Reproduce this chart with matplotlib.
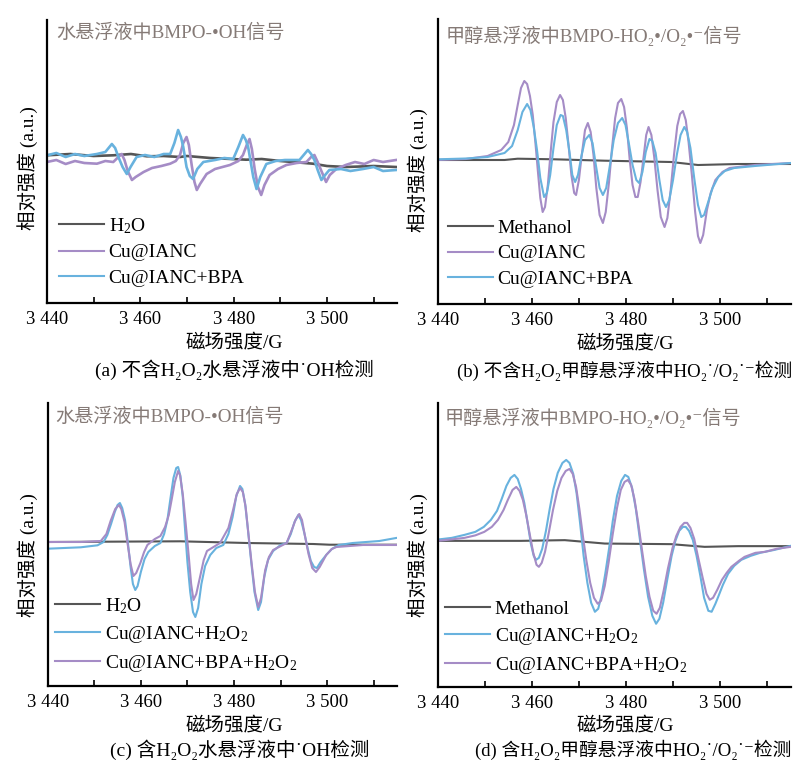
import numpy as np
import matplotlib
matplotlib.use("Agg")
import matplotlib.pyplot as plt
from matplotlib.ticker import MultipleLocator, FuncFormatter

FAM = ["Liberation Serif", "Noto Sans CJK SC", "DejaVu Sans"]
plt.rcParams["font.family"] = FAM
plt.rcParams["mathtext.fontset"] = "custom"
plt.rcParams["mathtext.rm"] = "Liberation Serif"
plt.rcParams["mathtext.default"] = "regular"

GRAY = "#555555"
PURPLE = "#a58cc6"
BLUE = "#68b2de"
TITLE_C = "#857a76"

# ---- (a) no H2O2, water suspension ----
a_x_h2o = [3440, 3445, 3450, 3454.2, 3458, 3461.4, 3465, 3468.5, 3470, 3475, 3482.7,
           3486, 3490, 3497.0, 3500, 3504.1, 3510, 3514.8]
a_y_h2o = [1.7, 3, 1, 1.7, 3, 0.7, 1, 0, 1, -1, -2.7,
           -2, -4, -6.7, -9, -10, -9, -10]
a_x_cu = [3440, 3442, 3444, 3446, 3448, 3450.7, 3452.5, 3454.2, 3455.3, 3456.0,
          3456.6, 3457.3, 3458.2, 3459.0, 3460.7, 3462.5, 3464.5, 3466.4, 3467.6, 3468.5,
          3469.2, 3469.9, 3470.4, 3471.0, 3471.6, 3472.1, 3472.8, 3474.2, 3476.0, 3479.2,
          3481.0, 3482.0, 3482.8, 3483.4, 3483.9, 3484.5, 3485.2, 3485.9, 3486.6, 3487.7,
          3489.5, 3491.3, 3493.5, 3495.6, 3496.6, 3497.3, 3498.0, 3498.8, 3499.8, 3500.6,
          3502.0, 3504, 3506, 3508, 3510, 3512, 3514.8]
a_y_cu = [-5, -3, -7, -4, -6, -6.7, -4, -5, 0, 3,
          -3, -14, -23, -20, -15, -11, -9, -6.7, -4, 2,
          14, 20, 12, -8, -25, -33, -27, -17, -12, -8,
          -4, 2, 12, 18, 8, -12, -30, -38, -28, -18,
          -12, -8, -6, -5, 0, 2, -5, -14, -25, -18,
          -12, -8, -5, -7, -3, -5, -3]
a_x_bpa = [3440, 3442, 3444, 3446, 3448, 3450.7, 3452.5, 3453.9, 3454.6, 3455.3,
           3456.2, 3457.1, 3457.9, 3459.2, 3461, 3463, 3465, 3466.4, 3467.3, 3468.1,
           3468.7, 3469.2, 3469.9, 3470.6, 3471.3, 3472.2, 3473.5, 3476, 3478, 3479.9,
           3481.0, 3482.0, 3482.6, 3483.1, 3484.2, 3484.9, 3485.7, 3487.0, 3489, 3491,
           3494.1, 3495.0, 3495.9, 3496.6, 3497.3, 3498.0, 3498.8, 3499.6, 3500.5, 3503,
           3505, 3507.7, 3510, 3512, 3514.8]
a_y_bpa = [1.7, 4, 0, 3, 1, 3, 5, 13, 9, 0,
           -10, -17, -10, 0, 2, 0, 3, 3, 14, 27,
           20, 10, -10, -19, -22, -12, -5, -3, -1, -2,
           10, 22, 17, 10, -20, -32, -20, -7, -4, -3,
           -3, 2, 7, 3, -3, -13, -23, -18, -13, -12,
           -14, -12, -10, -14, -13]

# ---- (b) no H2O2, methanol suspension ----
b_x_meoh = [3440, 3454.2, 3457.0, 3464.8, 3475.5, 3489.6, 3495.3, 3503.8, 3515]
b_y_meoh = [0, 0, 1.3, 0.7, -0.7, -2, -5, -4, -4]
b_x_cu = [3440, 3446, 3450.6, 3453.5, 3455.0, 3456.2, 3457.0, 3457.7, 3458.4, 3459.0,
          3459.6, 3460.2, 3460.8, 3461.3, 3461.8, 3462.3, 3462.8, 3463.4, 3464.0, 3464.6,
          3465.3, 3466.0, 3466.6, 3467.2, 3467.8, 3468.4, 3469.0, 3469.4, 3470.0, 3470.6,
          3471.3, 3471.9, 3472.5, 3473.1, 3473.7, 3474.4, 3475.1, 3475.7, 3476.4, 3477.0,
          3477.7, 3478.3, 3479.0, 3479.6, 3480.2, 3480.8, 3481.4, 3482.0, 3482.5, 3483.1,
          3483.8, 3484.3, 3484.8, 3485.4, 3486.0, 3486.7, 3487.4, 3488.2, 3488.8, 3489.5,
          3490.2, 3490.9, 3491.5, 3492.1, 3492.7, 3493.3, 3494.0, 3494.7, 3495.3, 3495.8,
          3496.4, 3497.2, 3498.0, 3499.0, 3500.5, 3502.0, 3507.4, 3515]
b_y_cu = [0, 1, 4, 10, 18, 35, 55, 72, 79, 76,
          64, 45, 15, -12, -38, -52, -47, -25, 8, 38,
          58, 65, 60, 42, 15, -15, -33, -35, -20, 5,
          30, 37, 28, 5, -28, -55, -63, -52, -22, 10,
          42, 57, 61, 53, 32, 0, -25, -37, -37, -22,
          5, 25, 33, 25, 3, -30, -57, -67, -58, -30,
          5, 34, 46, 49, 40, 18, -15, -52, -76, -83,
          -75, -50, -33, -20, -12, -8, -5, -3]
b_x_bpa = [3440, 3446, 3450.6, 3454.2, 3455.8, 3457.0, 3458.0, 3459.0, 3459.7, 3460.4,
           3461.1, 3461.8, 3462.6, 3463.2, 3463.9, 3464.6, 3465.3, 3466.1, 3466.6, 3467.3,
           3468.0, 3468.6, 3469.2, 3469.8, 3470.5, 3471.3, 3472.2, 3472.9, 3473.6, 3474.4,
           3475.1, 3475.8, 3476.6, 3477.4, 3478.3, 3479.2, 3479.9, 3480.6, 3481.4, 3482.2,
           3482.8, 3483.5, 3484.2, 3485.0, 3485.6, 3486.3, 3487.1, 3487.8, 3488.5, 3489.2,
           3490.0, 3490.8, 3491.6, 3492.4, 3493.0, 3493.7, 3494.5, 3495.3, 3496.0, 3496.6,
           3497.4, 3498.4, 3499.6, 3501.0, 3503.0, 3507.4, 3515]
b_y_bpa = [0.7, 1.5, 3, 7, 14, 30, 48, 56, 50, 33,
           10, -18, -37, -33, -15, 12, 35, 45, 44, 30,
           8, -15, -22, -15, 3, 20, 25, 17, -5, -28,
           -35, -28, -5, 20, 37, 42, 35, 17, -5, -20,
           -23, -12, 8, 21, 19, 7, -20, -40, -47, -40,
           -20, 5, 25, 33, 28, 12, -18, -45, -57, -55,
           -43, -28, -17, -11, -8, -6, -3]

# ---- (c) with H2O2, water suspension ----
c_x_h2o = [3440, 3468.5, 3482.7, 3497.0, 3500.5, 3514.8]
c_y_h2o = [0, 0.7, -1, -2, -2.7, -2.7]
c_x_cu = [3440, 3447.1, 3450.7, 3452.0, 3452.8, 3453.6, 3454.4, 3455.0, 3455.5, 3456.0,
          3456.6, 3457.2, 3457.8, 3458.3, 3458.8, 3459.3, 3460.0, 3460.8, 3461.6, 3463.0,
          3464.2, 3465.0, 3465.7, 3466.4, 3467.0, 3467.6, 3468.0, 3468.5, 3469.0, 3469.5,
          3470.0, 3470.6, 3471.2, 3471.7, 3472.3, 3473.0, 3473.8, 3474.9, 3476.2, 3477.7,
          3478.8, 3479.7, 3480.5, 3481.3, 3481.8, 3482.4, 3483.0, 3483.7, 3484.4, 3485.2,
          3485.8, 3486.5, 3487.3, 3488.4, 3490.0, 3491.3, 3492.2, 3493.0, 3493.8, 3494.4,
          3495.1, 3495.8, 3496.5, 3497.2, 3497.8, 3498.6, 3499.8, 3501.0, 3502.5, 3505.5,
          3511.2, 3514.8]
c_y_cu = [-6.7, -5.3, -3.3, 0, 7, 18, 30, 37, 39, 34,
          22, 0, -25, -42, -48, -44, -30, -17, -10, -4,
          -1, 8, 22, 45, 64, 74, 75, 66, 45, 12,
          -20, -50, -70, -75, -66, -42, -24, -13, -6, -3,
          8, 25, 46, 56, 53, 38, 12, -20, -50, -68,
          -60, -35, -18, -9, -3, -1, 8, 20, 27, 22,
          9, -6, -19, -25, -26, -20, -13, -7, -3, -1,
          1, 4]
c_x_bpa = [3440, 3447.1, 3451.4, 3452.6, 3453.5, 3454.5, 3455.3, 3455.8, 3456.5, 3457.1,
           3457.8, 3458.4, 3459.0, 3459.9, 3460.7, 3461.4, 3463.0, 3464.2, 3465.2, 3466.0,
           3466.6, 3467.3, 3468.0, 3468.4, 3469.0, 3469.6, 3470.3, 3470.8, 3471.3, 3471.9,
           3472.8, 3473.5, 3474.2, 3477.0, 3478.8, 3479.8, 3480.6, 3481.3, 3481.9, 3482.5,
           3483.1, 3483.8, 3484.5, 3485.2, 3485.8, 3486.7, 3487.5, 3488.4, 3491.3, 3492.4,
           3493.2, 3494.0, 3494.6, 3495.2, 3496.0, 3496.8, 3497.6, 3498.4, 3499.8, 3501.0,
           3502.0, 3507.7, 3514.8]
c_y_bpa = [0, 0, 1, 8, 21, 33, 37, 33, 20, 0,
           -22, -34, -31, -21, -10, -3, 3, 6, 15, 27,
           42, 60, 71, 67, 48, 20, -15, -42, -58, -52,
           -33, -18, -9, -1, 14, 32, 48, 54, 50, 35,
           8, -22, -50, -65, -56, -28, -15, -8, -1, 12,
           22, 28, 22, 7, -12, -26, -30, -25, -13, -7,
           -5, -3, -3]

# ---- (d) with H2O2, methanol suspension ----
d_x_meoh = [3440, 3457.7, 3467.0, 3475.5, 3489.6, 3496.7, 3503.8, 3515]
d_y_meoh = [0, 0, 0.7, -2.7, -3.3, -6, -5.3, -5.3]
d_x_cu = [3440, 3443, 3445.7, 3448, 3449.8, 3451.3, 3452.6, 3453.6, 3454.6, 3455.5,
          3456.3, 3457.0, 3457.7, 3458.4, 3459.1, 3459.8, 3460.4, 3460.9, 3461.5, 3462.2,
          3463.0, 3463.8, 3464.6, 3465.5, 3466.5, 3467.3, 3468.0, 3468.8, 3469.5, 3470.2,
          3471.0, 3471.8, 3472.6, 3473.4, 3474.1, 3474.8, 3475.6, 3476.4, 3477.2, 3478.1,
          3479.0, 3479.8, 3480.5, 3481.3, 3482.1, 3483.0, 3483.8, 3484.7, 3485.6, 3486.4,
          3487.1, 3487.9, 3488.8, 3489.7, 3490.5, 3491.3, 3492.1, 3492.7, 3493.4, 3494.2,
          3495.0, 3495.8, 3496.6, 3497.5, 3498.2, 3499.0, 3499.6, 3500.6, 3501.7, 3503.0,
          3504.5, 3506.5, 3508.5, 3511.6, 3515]
d_y_cu = [1.3, 3, 6, 9, 14, 21, 30, 42, 55, 63,
          66, 62, 52, 38, 18, -3, -15, -19, -17, -8,
          10, 32, 52, 68, 78, 81, 78, 67, 48, 20,
          -15, -42, -62, -71, -68, -55, -33, -8, 20, 45,
          60, 66, 64, 53, 32, 0, -28, -56, -75, -83,
          -78, -62, -38, -15, 0, 10, 14, 14, 10, 1,
          -15, -35, -57, -70, -71, -63, -56, -44, -33, -25,
          -19, -15, -12, -9, -5]
d_x_bpa = [3440, 3443, 3445.7, 3448, 3449.9, 3451.5, 3452.8, 3454.0, 3454.9, 3455.9,
           3456.7, 3457.4, 3458.1, 3458.8, 3459.5, 3460.3, 3461.0, 3461.5, 3462.1, 3462.8,
           3463.6, 3464.5, 3465.4, 3466.3, 3467.2, 3468.0, 3468.7, 3469.4, 3470.1, 3470.9,
           3471.6, 3472.4, 3473.2, 3474.0, 3474.7, 3475.5, 3476.3, 3477.2, 3478.1, 3478.9,
           3479.7, 3480.4, 3481.1, 3481.8, 3482.6, 3483.4, 3484.2, 3485.0, 3485.8, 3486.5,
           3487.2, 3488.0, 3488.9, 3489.9, 3490.7, 3491.6, 3492.4, 3493.0, 3493.7, 3494.5,
           3495.4, 3496.3, 3497.1, 3497.8, 3498.5, 3499.4, 3500.4, 3501.4, 3502.4, 3504.0,
           3505.2, 3507.5, 3509.5, 3512, 3515]
d_y_bpa = [0, 1.5, 3, 5.5, 9, 14, 21, 31, 41, 51,
           54, 50, 41, 26, 8, -12, -24, -26, -22, -11,
           8, 31, 50, 63, 70, 72, 67, 54, 32, 3,
           -20, -42, -57, -63, -60, -45, -22, 7, 33, 51,
           59, 61, 56, 42, 18, -9, -35, -56, -70, -73,
           -67, -50, -28, -7, 5, 14, 18, 18, 13, 2,
           -18, -37, -53, -59, -57, -49, -39, -32, -26, -20,
           -16, -12, -11, -8, -6]

TITLES = ["水悬浮液中BMPO-•OH信号", "甲醇悬浮液中BMPO-HO₂•/O₂•⁻信号",
          "水悬浮液中BMPO-•OH信号", "甲醇悬浮液中BMPO-HO₂•/O₂•⁻信号"]
CAPTIONS = ["(a) 不含H₂O₂水悬浮液中˙OH检测", "(b) 不含H₂O₂甲醇悬浮液中HO₂˙/O₂˙⁻检测",
            "(c) 含H₂O₂水悬浮液中˙OH检测", "(d) 含H₂O₂甲醇悬浮液中HO₂˙/O₂˙⁻检测"]
XLABEL = "磁场强度/G"
YLABEL = "相对强度 (a.u.)"

W, H = 794, 762


def fx(x):
    return x / W


def fy(y):
    return 1 - y / H


panels = [
    dict(rect=(47, 20, 397, 303), ylim=(-146, 137), lw=1.9,
         series=[(a_x_h2o, a_y_h2o, GRAY, r"H$_2$O"),
                 (a_x_cu, a_y_cu, PURPLE, "Cu@IANC"),
                 (a_x_bpa, a_y_bpa, BLUE, "Cu@IANC+BPA")],
         leg=(59, 216), title=(56, 33), xl=234, cap=(234, 370, "center", 14), yl=(28, 168)),
    dict(rect=(437.7, 19, 790.7, 304), ylim=(-144, 141), lw=1.5,
         series=[(b_x_meoh, b_y_meoh, GRAY, "Methanol"),
                 (b_x_cu, b_y_cu, PURPLE, "Cu@IANC"),
                 (b_x_bpa, b_y_bpa, BLUE, "Cu@IANC+BPA")],
         leg=(448, 219), title=(446, 36), xl=625, cap=(792, 371, "right", 13.5), yl=(418, 170)),
    dict(rect=(47.7, 403, 397, 686), ylim=(-144, 139), lw=1.5,
         series=[(c_x_h2o, c_y_h2o, GRAY, r"H$_2$O"),
                 (c_x_cu, c_y_cu, BLUE, r"Cu@IANC+H$_2$O$_2$"),
                 (c_x_bpa, c_y_bpa, PURPLE, r"Cu@IANC+BPA+H$_2$O$_2$")],
         leg=(55, 596), title=(55, 417), xl=234, cap=(240, 750, "center", 14), yl=(28, 555)),
    dict(rect=(437.7, 403, 790.7, 686.7), ylim=(-146, 138), lw=1.5,
         series=[(d_x_meoh, d_y_meoh, GRAY, "Methanol"),
                 (d_x_cu, d_y_cu, BLUE, r"Cu@IANC+H$_2$O$_2$"),
                 (d_x_bpa, d_y_bpa, PURPLE, r"Cu@IANC+BPA+H$_2$O$_2$")],
         leg=(445, 600), title=(445, 418), xl=625, cap=(791, 750, "right", 13.5), yl=(418, 555)),
]

fig = plt.figure(figsize=(W / 100, H / 100), dpi=100)

for i, p in enumerate(panels):
    l, t, r, b = p["rect"]
    ax = fig.add_axes([fx(l), fy(b), fx(r - l), (b - t) / H])
    for xs, ys, col, lab in p["series"]:
        ax.plot(xs, ys, color=col, lw=p["lw"], label=lab, solid_joinstyle="round")
    ax.set_xlim(3440, 3515)
    ax.set_ylim(*p["ylim"])
    for s in ("top", "right"):
        ax.spines[s].set_visible(False)
    for s in ("left", "bottom"):
        ax.spines[s].set_linewidth(1.6)
    ax.set_yticks([])
    ax.xaxis.set_major_locator(MultipleLocator(20))
    ax.xaxis.set_minor_locator(MultipleLocator(10))
    ax.xaxis.set_major_formatter(FuncFormatter(lambda v, pos: f"{int(v) // 1000} {int(v) % 1000:03d}"))
    ax.tick_params(axis="x", which="both", direction="in", length=4, width=1.2, pad=6,
                   labelsize=13.5)
    lx, ly = p["leg"]
    leg = ax.legend(loc="upper left", bbox_to_anchor=((lx - l) / (r - l), (b - ly) / (b - t)),
                    frameon=False, fontsize=14, handlelength=2.3, handletextpad=0.25,
                    borderpad=0, borderaxespad=0, labelspacing=0.42)
    for ln in leg.get_lines():
        ln.set_linewidth(1.5)
    tx, ty = p["title"]
    fig.text(fx(tx), fy(ty), TITLES[i], color=TITLE_C, fontsize=13.8, va="center", ha="left")
    fig.text(fx(p["xl"]), fy(b + 39), XLABEL, fontsize=14, ha="center", va="center")
    cx, cy, cha, csz = p["cap"]
    fig.text(fx(cx), fy(cy), CAPTIONS[i], fontsize=csz, ha=cha, va="center")
    yx, yy = p["yl"]
    fig.text(fx(yx), fy(yy), YLABEL, fontsize=14, rotation=90, ha="center", va="center")

fig.savefig("out.png", dpi=100)
